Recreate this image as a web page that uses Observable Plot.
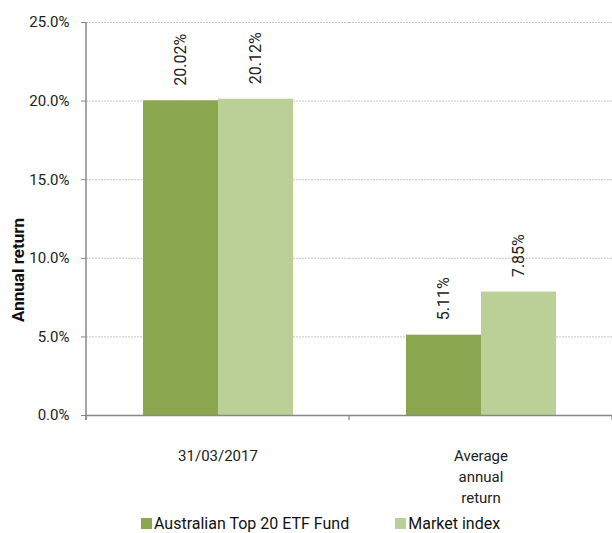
<!DOCTYPE html>
<html>
<head>
<meta charset="utf-8">
<script src="https://cdn.jsdelivr.net/npm/d3@7"></script>
<script src="https://cdn.jsdelivr.net/npm/@observablehq/plot@0.6"></script>
<style>
  body { margin: 0; background: #fff; font-family: Roboto, "Liberation Sans", sans-serif; }
  #chart { position: relative; width: 612px; }
  .legend { display: flex; align-items: center; height: 21px; margin-top: 1px; padding-left: 141px; font-size: 16px; color: #111; }
  .legend .item { display: flex; align-items: center; margin-right: 46px; }
  .legend .sw { width: 11px; height: 11px; margin-right: 2px; display: inline-block; }
  .ytitle { position: absolute; left: 18px; top: 270px; transform: translate(-50%, -50%) rotate(-90deg);
    font-weight: bold; font-size: 17px; color: #111; white-space: nowrap; }
</style>
</head>
<body>
<div id="chart"></div>
<script>
const categories = ["31/03/2017", "Average annual return"];
const categoryLabels = ["31/03/2017", "Average\nannual\nreturn"];
const series = ["Australian Top 20 ETF Fund", "Market index"];
const fundValues = [20.02, 5.11];
const indexValues = [20.12, 7.85];
const yTicks = [0, 5, 10, 15, 20, 25];
const yTitle = "Annual return";
const colors = ["#8aa64e", "#bbd097"];

const data = [];
categories.forEach((c, i) => {
  data.push({category: c, series: series[0], value: fundValues[i]});
  data.push({category: c, series: series[1], value: indexValues[i]});
});

const plot = Plot.plot({
  width: 612,
  height: 512,
  marginLeft: 85,
  marginRight: 0,
  marginTop: 22,
  marginBottom: 97,
  style: {fontFamily: "Roboto, sans-serif", fontSize: "15px", color: "#222", background: "#fff"},
  fx: {domain: categories, padding: 0, label: null, axis: null},
  x: {domain: series, paddingInner: 0, paddingOuter: 0.733, axis: null},
  y: {domain: [0, 25], label: null},
  color: {domain: series, range: colors},
  marks: [
    Plot.gridY(yTicks, {stroke: "#b5b5b5", strokeOpacity: 1, strokeDasharray: "2,1", strokeWidth: 0.8}),
    Plot.barY(data, {fx: "category", x: "series", y: "value", fill: "series"}),
    Plot.text(data, {fx: "category", x: "series", y: "value", text: d => d.value.toFixed(2) + "%",
      rotate: -90, textAnchor: "start", dy: -15, fontSize: 16, fill: "#222"}),
    Plot.ruleY([0], {stroke: "#888", strokeWidth: 1.5}),
    Plot.axisY(yTicks, {tickSize: 5, tickPadding: 12, stroke: "#888", tickFormat: d => d.toFixed(1) + "%", fontSize: 15, label: null}),
    Plot.axisFx({anchor: "bottom", tickSize: 0, tickPadding: 31, lineHeight: 1.4, fontSize: 15, label: null,
      tickFormat: d => categoryLabels[categories.indexOf(d)]})
  ]
});

// y-axis line and category boundary ticks, positioned with the plot's own scales
const ys = plot.scale("y");
const fxs = plot.scale("fx");
const svg = d3.select(plot);
const y0 = ys.apply(0);
const yTop = ys.apply(25);
const left = fxs.apply(categories[0]);
const bounds = categories.map(c => fxs.apply(c)).concat([fxs.apply(categories[categories.length - 1]) + fxs.bandwidth]);
const g = svg.append("g").attr("stroke", "#888");
g.append("line").attr("x1", left).attr("x2", left).attr("y1", yTop).attr("y2", y0 + 5).attr("stroke-width", 1.5);
bounds.forEach(b => {
  g.append("line").attr("x1", b).attr("x2", b).attr("y1", y0).attr("y2", y0 + 5).attr("stroke-width", 1.2);
});

const chart = document.getElementById("chart");
chart.append(plot);

const title = document.createElement("div");
title.className = "ytitle";
title.textContent = yTitle;
chart.append(title);

const legend = document.createElement("div");
legend.className = "legend";
series.forEach((s, i) => {
  const item = document.createElement("span");
  item.className = "item";
  const sw = document.createElement("span");
  sw.className = "sw";
  sw.style.background = colors[i];
  item.append(sw, document.createTextNode(s));
  legend.append(item);
});
chart.append(legend);
</script>
</body>
</html>
